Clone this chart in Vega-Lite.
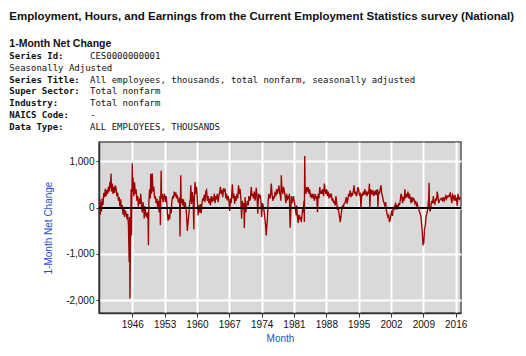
{
"$schema":"https://vega.github.io/schema/vega-lite/v6.json",
"autosize":{"type":"none"},
"width":362,"height":171,
"padding":{"left":99,"top":142,"right":65,"bottom":43},
"background":"white",
"title":{"text":"Employment, Hours, and Earnings from the Current Employment Statistics survey (National)","anchor":"start","font":"Liberation Sans","fontSize":11.5,"fontWeight":"bold","color":"#111111","offset":17},
"config":{"view":{"fill":"#d9d9d9","stroke":"#555555","strokeWidth":1.5}},
"datasets":{
"hdr":[
{"n":0,"c":"a","t":"1-Month Net Change","k":"h"},
{"n":1,"c":"a","t":"Series Id:","k":"l"},
{"n":1,"c":"b","t":"CES0000000001","k":"v"},
{"n":2,"c":"a","t":"Seasonally Adjusted","k":"v"},
{"n":3,"c":"a","t":"Series Title:","k":"l"},
{"n":3,"c":"b","t":"All employees, thousands, total nonfarm, seasonally adjusted","k":"v"},
{"n":4,"c":"a","t":"Super Sector:","k":"l"},
{"n":4,"c":"b","t":"Total nonfarm","k":"v"},
{"n":5,"c":"a","t":"Industry:","k":"l"},
{"n":5,"c":"b","t":"Total nonfarm","k":"v"},
{"n":6,"c":"a","t":"NAICS Code:","k":"l"},
{"n":6,"c":"b","t":"-","k":"v"},
{"n":7,"c":"a","t":"Data Type:","k":"l"},
{"n":7,"c":"b","t":"ALL EMPLOYEES, THOUSANDS","k":"v"}
],
"ces":[
{"d":"1939-01","v":180},{"d":"1939-02","v":-150},{"d":"1939-03","v":120},{"d":"1939-05","v":-80},{"d":"1939-07","v":200},{"d":"1939-09","v":60},{"d":"1939-11","v":320},
{"d":"1940-01","v":230},{"d":"1940-03","v":410},{"d":"1940-05","v":250},{"d":"1940-07","v":380},{"d":"1940-09","v":300},{"d":"1940-11","v":450},
{"d":"1941-01","v":350},{"d":"1941-03","v":554},{"d":"1941-04","v":420},{"d":"1941-06","v":736},{"d":"1941-07","v":350},{"d":"1941-09","v":520},{"d":"1941-11","v":300},
{"d":"1942-01","v":450},{"d":"1942-03","v":320},{"d":"1942-05","v":480},{"d":"1942-07","v":411},{"d":"1942-09","v":250},{"d":"1942-11","v":330},
{"d":"1943-01","v":150},{"d":"1943-03","v":230},{"d":"1943-05","v":30},{"d":"1943-07","v":180},{"d":"1943-09","v":-30},{"d":"1943-11","v":60},
{"d":"1944-01","v":-150},{"d":"1944-03","v":10},{"d":"1944-05","v":-200},{"d":"1944-07","v":-60},{"d":"1944-09","v":-120},{"d":"1944-11","v":-250},
{"d":"1945-01","v":-130},{"d":"1945-03","v":-350},{"d":"1945-05","v":-1175},{"d":"1945-06","v":-200},{"d":"1945-07","v":-1960},{"d":"1945-09","v":-300},{"d":"1945-10","v":400},{"d":"1945-11","v":-600},
{"d":"1946-01","v":960},{"d":"1946-02","v":350},{"d":"1946-03","v":650},{"d":"1946-05","v":250},{"d":"1946-07","v":550},{"d":"1946-09","v":300},{"d":"1946-11","v":400},
{"d":"1947-01","v":150},{"d":"1947-03","v":250},{"d":"1947-05","v":20},{"d":"1947-07","v":200},{"d":"1947-09","v":80},{"d":"1947-11","v":300},
{"d":"1948-01","v":50},{"d":"1948-03","v":-100},{"d":"1948-05","v":120},{"d":"1948-07","v":-50},{"d":"1948-08","v":-230},{"d":"1948-10","v":30},{"d":"1948-12","v":-150},
{"d":"1949-02","v":-200},{"d":"1949-04","v":-100},{"d":"1949-05","v":-250},{"d":"1949-06","v":-130},{"d":"1949-07","v":-810},{"d":"1949-08","v":100},{"d":"1949-10","v":400},{"d":"1949-12","v":200},
{"d":"1950-01","v":735},{"d":"1950-03","v":300},{"d":"1950-05","v":740},{"d":"1950-07","v":350},{"d":"1950-09","v":450},{"d":"1950-11","v":200},
{"d":"1951-01","v":250},{"d":"1951-03","v":100},{"d":"1951-05","v":200},{"d":"1951-07","v":0},{"d":"1951-09","v":150},{"d":"1951-11","v":-100},
{"d":"1952-01","v":250},{"d":"1952-02","v":-380},{"d":"1952-04","v":800},{"d":"1952-05","v":200},{"d":"1952-07","v":300},{"d":"1952-09","v":120},{"d":"1952-11","v":250},
{"d":"1953-01","v":300},{"d":"1953-03","v":120},{"d":"1953-05","v":250},{"d":"1953-07","v":80},{"d":"1953-08","v":-100},{"d":"1953-10","v":-280},{"d":"1953-12","v":-150},
{"d":"1954-02","v":-250},{"d":"1954-04","v":-20},{"d":"1954-06","v":-120},{"d":"1954-08","v":150},{"d":"1954-10","v":250},{"d":"1954-12","v":200},
{"d":"1955-02","v":350},{"d":"1955-04","v":250},{"d":"1955-06","v":330},{"d":"1955-08","v":200},{"d":"1955-10","v":280},{"d":"1955-12","v":150},
{"d":"1956-02","v":100},{"d":"1956-04","v":220},{"d":"1956-05","v":-620},{"d":"1956-07","v":700},{"d":"1956-08","v":100},{"d":"1956-10","v":200},{"d":"1956-12","v":50},
{"d":"1957-02","v":180},{"d":"1957-04","v":-10},{"d":"1957-06","v":120},{"d":"1957-08","v":20},{"d":"1957-10","v":-150},{"d":"1957-12","v":-500},
{"d":"1958-02","v":-300},{"d":"1958-04","v":-150},{"d":"1958-06","v":100},{"d":"1958-08","v":200},{"d":"1958-09","v":483},{"d":"1958-11","v":80},
{"d":"1959-01","v":340},{"d":"1959-03","v":200},{"d":"1959-05","v":-470},{"d":"1959-06","v":150},{"d":"1959-08","v":554},{"d":"1959-10","v":300},{"d":"1959-12","v":450},
{"d":"1960-02","v":190},{"d":"1960-04","v":-166},{"d":"1960-06","v":50},{"d":"1960-08","v":-100},{"d":"1960-10","v":80},{"d":"1960-12","v":-120},
{"d":"1961-02","v":100},{"d":"1961-04","v":200},{"d":"1961-06","v":150},{"d":"1961-08","v":280},{"d":"1961-10","v":120},{"d":"1961-12","v":350},
{"d":"1962-02","v":380},{"d":"1962-04","v":150},{"d":"1962-06","v":250},{"d":"1962-08","v":100},{"d":"1962-10","v":200},{"d":"1962-12","v":50},
{"d":"1963-02","v":250},{"d":"1963-04","v":120},{"d":"1963-06","v":200},{"d":"1963-08","v":150},{"d":"1963-10","v":300},{"d":"1963-12","v":100},
{"d":"1964-02","v":250},{"d":"1964-04","v":180},{"d":"1964-06","v":300},{"d":"1964-08","v":120},{"d":"1964-10","v":250},{"d":"1964-12","v":330},
{"d":"1965-02","v":450},{"d":"1965-04","v":300},{"d":"1965-06","v":380},{"d":"1965-08","v":230},{"d":"1965-10","v":420},{"d":"1965-12","v":350},
{"d":"1966-02","v":411},{"d":"1966-04","v":200},{"d":"1966-06","v":300},{"d":"1966-08","v":160},{"d":"1966-10","v":250},{"d":"1966-12","v":150},
{"d":"1967-02","v":-70},{"d":"1967-04","v":200},{"d":"1967-06","v":100},{"d":"1967-08","v":375},{"d":"1967-09","v":505},{"d":"1967-11","v":200},
{"d":"1968-01","v":300},{"d":"1968-03","v":87},{"d":"1968-05","v":250},{"d":"1968-07","v":150},{"d":"1968-09","v":300},{"d":"1968-11","v":200},
{"d":"1969-01","v":483},{"d":"1969-03","v":300},{"d":"1969-05","v":411},{"d":"1969-07","v":200},{"d":"1969-09","v":-240},{"d":"1969-11","v":150},
{"d":"1970-01","v":-20},{"d":"1970-03","v":100},{"d":"1970-04","v":-441},{"d":"1970-06","v":230},{"d":"1970-08","v":-100},{"d":"1970-10","v":50},{"d":"1970-12","v":150},
{"d":"1971-02","v":50},{"d":"1971-04","v":250},{"d":"1971-06","v":150},{"d":"1971-08","v":200},{"d":"1971-10","v":445},{"d":"1971-12","v":250},
{"d":"1972-02","v":300},{"d":"1972-04","v":200},{"d":"1972-06","v":350},{"d":"1972-08","v":150},{"d":"1972-10","v":300},{"d":"1972-11","v":430},
{"d":"1973-01","v":250},{"d":"1973-03","v":-130},{"d":"1973-05","v":300},{"d":"1973-07","v":200},{"d":"1973-09","v":280},{"d":"1973-11","v":150},
{"d":"1974-01","v":-200},{"d":"1974-03","v":100},{"d":"1974-05","v":50},{"d":"1974-07","v":-50},{"d":"1974-09","v":-200},{"d":"1974-11","v":-350},
{"d":"1975-01","v":-600},{"d":"1975-02","v":-450},{"d":"1975-04","v":-250},{"d":"1975-06","v":160},{"d":"1975-08","v":300},{"d":"1975-10","v":200},{"d":"1975-12","v":250},
{"d":"1976-02","v":520},{"d":"1976-04","v":300},{"d":"1976-06","v":150},{"d":"1976-08","v":250},{"d":"1976-10","v":200},{"d":"1976-12","v":350},
{"d":"1977-02","v":250},{"d":"1977-04","v":400},{"d":"1977-06","v":300},{"d":"1977-08","v":380},{"d":"1977-10","v":480},{"d":"1977-12","v":300},
{"d":"1978-01","v":300},{"d":"1978-03","v":150},{"d":"1978-04","v":700},{"d":"1978-06","v":400},{"d":"1978-08","v":300},{"d":"1978-10","v":450},{"d":"1978-12","v":350},
{"d":"1979-02","v":250},{"d":"1979-04","v":100},{"d":"1979-06","v":300},{"d":"1979-08","v":160},{"d":"1979-10","v":250},{"d":"1979-12","v":200},
{"d":"1980-01","v":300},{"d":"1980-03","v":-430},{"d":"1980-04","v":-250},{"d":"1980-06","v":250},{"d":"1980-08","v":100},{"d":"1980-10","v":200},{"d":"1980-12","v":250},
{"d":"1981-01","v":150},{"d":"1981-03","v":87},{"d":"1981-05","v":-50},{"d":"1981-07","v":-166},{"d":"1981-08","v":50},{"d":"1981-10","v":-200},{"d":"1981-12","v":-330},
{"d":"1982-02","v":-150},{"d":"1982-04","v":-250},{"d":"1982-06","v":-200},{"d":"1982-08","v":-310},{"d":"1982-10","v":-150},{"d":"1982-12","v":0},
{"d":"1983-01","v":-100},{"d":"1983-03","v":150},{"d":"1983-04","v":-310},{"d":"1983-05","v":1117},{"d":"1983-06","v":400},{"d":"1983-08","v":300},{"d":"1983-10","v":445},{"d":"1983-12","v":350},
{"d":"1984-02","v":445},{"d":"1984-04","v":300},{"d":"1984-06","v":400},{"d":"1984-08","v":230},{"d":"1984-10","v":300},{"d":"1984-12","v":200},
{"d":"1985-02","v":300},{"d":"1985-04","v":250},{"d":"1985-06","v":150},{"d":"1985-08","v":300},{"d":"1985-10","v":200},{"d":"1985-12","v":250},
{"d":"1986-02","v":-95},{"d":"1986-04","v":300},{"d":"1986-06","v":200},{"d":"1986-08","v":445},{"d":"1986-10","v":300},{"d":"1986-12","v":350},
{"d":"1987-02","v":300},{"d":"1987-04","v":400},{"d":"1987-06","v":250},{"d":"1987-08","v":520},{"d":"1987-10","v":350},{"d":"1987-12","v":300},
{"d":"1988-02","v":400},{"d":"1988-04","v":250},{"d":"1988-06","v":350},{"d":"1988-08","v":200},{"d":"1988-10","v":300},{"d":"1988-12","v":250},
{"d":"1989-02","v":300},{"d":"1989-04","v":150},{"d":"1989-06","v":200},{"d":"1989-08","v":100},{"d":"1989-10","v":150},{"d":"1989-12","v":50},
{"d":"1990-02","v":250},{"d":"1990-04","v":100},{"d":"1990-06","v":-50},{"d":"1990-08","v":20},{"d":"1990-10","v":-130},{"d":"1990-12","v":-240},
{"d":"1991-01","v":-310},{"d":"1991-03","v":-200},{"d":"1991-05","v":-50},{"d":"1991-07","v":50},{"d":"1991-09","v":-20},{"d":"1991-11","v":87},
{"d":"1992-01","v":100},{"d":"1992-03","v":150},{"d":"1992-05","v":230},{"d":"1992-07","v":90},{"d":"1992-09","v":180},{"d":"1992-11","v":300},
{"d":"1993-01","v":250},{"d":"1993-03","v":375},{"d":"1993-05","v":230},{"d":"1993-07","v":300},{"d":"1993-09","v":280},{"d":"1993-11","v":350},
{"d":"1994-01","v":483},{"d":"1994-03","v":300},{"d":"1994-05","v":350},{"d":"1994-07","v":250},{"d":"1994-09","v":300},{"d":"1994-11","v":445},
{"d":"1995-01","v":400},{"d":"1995-03","v":280},{"d":"1995-05","v":300},{"d":"1995-07","v":0},{"d":"1995-09","v":300},{"d":"1995-11","v":250},
{"d":"1996-01","v":350},{"d":"1996-03","v":280},{"d":"1996-05","v":400},{"d":"1996-07","v":300},{"d":"1996-09","v":330},{"d":"1996-11","v":250},
{"d":"1997-01","v":350},{"d":"1997-03","v":300},{"d":"1997-05","v":520},{"d":"1997-06","v":0},{"d":"1997-08","v":400},{"d":"1997-10","v":350},{"d":"1997-12","v":280},
{"d":"1998-02","v":380},{"d":"1998-04","v":250},{"d":"1998-06","v":330},{"d":"1998-08","v":300},{"d":"1998-10","v":380},{"d":"1998-12","v":270},
{"d":"1999-02","v":400},{"d":"1999-03","v":13},{"d":"1999-05","v":350},{"d":"1999-07","v":300},{"d":"1999-09","v":400},{"d":"1999-11","v":483},
{"d":"2000-01","v":300},{"d":"2000-03","v":250},{"d":"2000-05","v":150},{"d":"2000-07","v":100},{"d":"2000-09","v":50},{"d":"2000-11","v":120},
{"d":"2001-01","v":-60},{"d":"2001-03","v":-150},{"d":"2001-05","v":-200},{"d":"2001-07","v":-165},{"d":"2001-09","v":-310},{"d":"2001-11","v":-250},
{"d":"2002-01","v":-150},{"d":"2002-03","v":-60},{"d":"2002-05","v":-180},{"d":"2002-07","v":20},{"d":"2002-09","v":-50},{"d":"2002-11","v":50},
{"d":"2003-01","v":87},{"d":"2003-03","v":-40},{"d":"2003-05","v":60},{"d":"2003-07","v":-30},{"d":"2003-09","v":100},{"d":"2003-11","v":50},
{"d":"2004-01","v":150},{"d":"2004-03","v":300},{"d":"2004-05","v":250},{"d":"2004-07","v":100},{"d":"2004-09","v":230},{"d":"2004-11","v":150},
{"d":"2005-01","v":400},{"d":"2005-03","v":200},{"d":"2005-05","v":300},{"d":"2005-07","v":230},{"d":"2005-09","v":350},{"d":"2005-11","v":200},
{"d":"2006-01","v":300},{"d":"2006-03","v":200},{"d":"2006-05","v":100},{"d":"2006-07","v":230},{"d":"2006-09","v":150},{"d":"2006-11","v":200},
{"d":"2007-01","v":180},{"d":"2007-03","v":100},{"d":"2007-05","v":150},{"d":"2007-07","v":50},{"d":"2007-09","v":90},{"d":"2007-11","v":20},
{"d":"2008-01","v":-10},{"d":"2008-03","v":-95},{"d":"2008-05","v":-130},{"d":"2008-07","v":-200},{"d":"2008-09","v":-420},{"d":"2008-10","v":-490},{"d":"2008-12","v":-816},
{"d":"2009-01","v":-710},{"d":"2009-02","v":-780},{"d":"2009-04","v":-455},{"d":"2009-06","v":-400},{"d":"2009-08","v":-200},{"d":"2009-10","v":-130},{"d":"2009-12","v":-50},
{"d":"2010-01","v":50},{"d":"2010-03","v":200},{"d":"2010-04","v":540},{"d":"2010-05","v":-20},{"d":"2010-07","v":-80},{"d":"2010-09","v":50},{"d":"2010-11","v":150},
{"d":"2011-01","v":100},{"d":"2011-03","v":250},{"d":"2011-05","v":100},{"d":"2011-07","v":80},{"d":"2011-09","v":200},{"d":"2011-11","v":150},
{"d":"2012-01","v":350},{"d":"2012-03","v":250},{"d":"2012-05","v":100},{"d":"2012-07","v":150},{"d":"2012-09","v":180},{"d":"2012-11","v":200},
{"d":"2013-01","v":200},{"d":"2013-03","v":140},{"d":"2013-05","v":230},{"d":"2013-07","v":150},{"d":"2013-09","v":200},{"d":"2013-11","v":250},
{"d":"2014-01","v":190},{"d":"2014-03","v":250},{"d":"2014-05","v":230},{"d":"2014-07","v":260},{"d":"2014-09","v":250},{"d":"2014-11","v":330},
{"d":"2015-01","v":200},{"d":"2015-03","v":100},{"d":"2015-05","v":280},{"d":"2015-07","v":250},{"d":"2015-09","v":150},{"d":"2015-11","v":280},
{"d":"2016-01","v":150},{"d":"2016-03","v":220},{"d":"2016-05","v":40},{"d":"2016-07","v":300},{"d":"2016-09","v":200},{"d":"2016-11","v":180},
{"d":"2017-01","v":230}
]
},
"layer":[
{"data":{"name":"ces"},
 "encoding":{
  "x":{"field":"d","type":"temporal","title":"Month",
   "scale":{"domain":[{"year":1938,"month":10,"date":20,"utc":true},{"year":2017,"month":2,"date":24,"utc":true}]},
   "axis":{"values":[{"year":1946,"utc":true},{"year":1953,"utc":true},{"year":1960,"utc":true},{"year":1967,"utc":true},{"year":1974,"utc":true},{"year":1981,"utc":true},{"year":1988,"utc":true},{"year":1995,"utc":true},{"year":2002,"utc":true},{"year":2009,"utc":true},{"year":2016,"utc":true}],
    "format":"%Y","formatType":"utc","grid":true,"gridColor":"#ffffff","gridWidth":2,"gridOpacity":1,
    "domainColor":"#333333","domainWidth":1.5,"tickColor":"#333333","tickSize":4,"labelPadding":2,
    "labelFont":"Liberation Sans","labelFontSize":10,"labelColor":"#111111",
    "titleFont":"Liberation Sans","titleFontSize":10,"titleFontWeight":"normal","titleColor":"#1f4fc8","titlePadding":4}},
  "y":{"field":"v","type":"quantitative","title":"1-Month Net Change",
   "scale":{"domain":[-2275,1420],"nice":false,"zero":false},
   "axis":{"values":[-2000,-1000,0,1000],"labelExpr":"replace(format(datum.value, ','), '\u2212', '-')",
    "grid":true,"gridColor":"#ffffff","gridWidth":2,"gridOpacity":1,
    "domainColor":"#333333","domainWidth":1.5,"tickColor":"#333333","tickSize":3,"labelPadding":2,
    "labelFont":"Liberation Sans","labelFontSize":10,"labelColor":"#111111",
    "titleFont":"Liberation Sans","titleFontSize":10,"titleFontWeight":"normal","titleColor":"#1f4fc8","titlePadding":12}}
 },
 "layer":[
  {"mark":{"type":"line","color":"#a00000","strokeWidth":1.35,"interpolate":"linear"}},
  {"mark":{"type":"rule","color":"#000000","strokeWidth":1.5},"encoding":{"y":{"datum":0},"x":{"value":0},"x2":{"value":362}}}
 ]
},
{"data":{"name":"hdr"},
 "encoding":{
  "x":{"field":"c","type":"nominal","scale":{"type":"point","domain":["a","b"],"range":[-89.7,-9],"padding":0},"axis":null},
  "y":{"field":"n","type":"quantitative","scale":{"domain":[0,7],"range":[-97.7,-15.3],"nice":false,"zero":false},"axis":null},
  "text":{"field":"t"}
 },
 "layer":[
  {"transform":[{"filter":"datum.k == 'h'"}],"mark":{"type":"text","align":"left","baseline":"middle","font":"Liberation Sans","fontSize":10.5,"fontWeight":"bold","color":"#111111"}},
  {"transform":[{"filter":"datum.k == 'l'"}],"mark":{"type":"text","align":"left","baseline":"middle","font":"DejaVu Sans Mono","fontSize":9,"fontWeight":"bold","color":"#111111"}},
  {"transform":[{"filter":"datum.k == 'v'"}],"mark":{"type":"text","align":"left","baseline":"middle","font":"DejaVu Sans Mono","fontSize":9,"fontWeight":"normal","color":"#111111"}}
 ]
}
],
"resolve":{"scale":{"x":"independent","y":"independent"}}
}
